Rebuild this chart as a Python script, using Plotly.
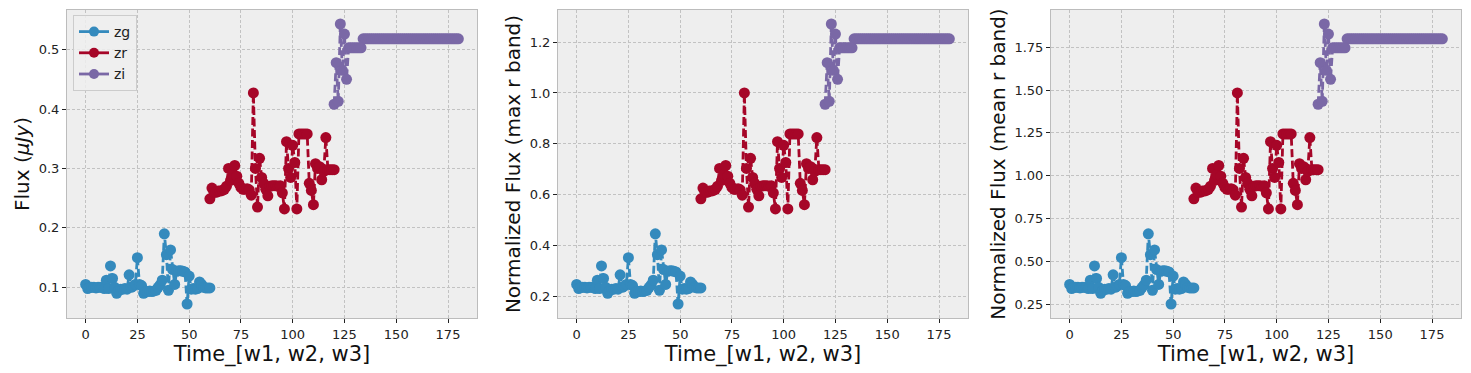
import numpy as np
import plotly.graph_objects as go

# ---- data ----
t_zg = list(range(0, 61))
zg = [0.105, 0.098, 0.100, 0.100, 0.100, 0.099, 0.100, 0.100, 0.100, 0.098,
      0.112, 0.098, 0.136, 0.115, 0.100, 0.090, 0.095, 0.097, 0.097, 0.098,
      0.097, 0.121, 0.100, 0.102, 0.105, 0.150, 0.105, 0.103, 0.090, 0.093,
      0.093, 0.094, 0.093, 0.094, 0.095, 0.100, 0.104, 0.112, 0.190, 0.155,
      0.095, 0.163, 0.130, 0.105, 0.127, 0.128, 0.128, 0.127, 0.126, 0.072,
      0.119, 0.097, 0.098, 0.097, 0.098, 0.109, 0.105, 0.100, 0.099, 0.099,
      0.099]

t_zr = list(range(60, 121))
zr = [0.249, 0.267, 0.260, 0.260, 0.262, 0.262, 0.263, 0.265, 0.270, 0.300,
      0.280, 0.290, 0.305, 0.287, 0.275, 0.268, 0.265, 0.265, 0.266, 0.264,
      0.255, 0.427, 0.300, 0.235, 0.317, 0.285, 0.275, 0.265, 0.254, 0.270,
      0.271, 0.271, 0.271, 0.270, 0.271, 0.259, 0.232, 0.345, 0.300, 0.285,
      0.339, 0.310, 0.232, 0.358, 0.358, 0.358, 0.358, 0.358, 0.275, 0.263,
      0.239, 0.308, 0.300, 0.303, 0.281, 0.295, 0.352, 0.298, 0.298, 0.298,
      0.298]

t_zi = list(range(120, 181))
zi = [0.408, 0.478, 0.413, 0.543, 0.465, 0.526, 0.450, 0.503, 0.503, 0.503,
      0.503, 0.503, 0.503, 0.503] + [0.518] * 47

series_names = ["zg", "zr", "zi"]
series_colors = ["#348ABD", "#A60628", "#7A68A6"]
x_ticks = [0, 25, 50, 75, 100, 125, 150, 175]
y_titles = ["Flux (<i>μJy</i>)", "Normalized Flux (max r band)", "Normalized Flux (mean r band)"]
x_title = "Time_[w1, w2, w3]"

r_max = max(zr)
r_mean = float(np.mean(zr))
scales = [1.0, r_max, r_mean]

times = [t_zg, t_zr, t_zi]
vals = [zg, zr, zi]

# ---- layout geometry (page body has an 8px margin) ----
W, H = 1471, 373
OFF = 8
x_pix = [(67, 477), (558, 968), (1051, 1461)]
y_pix = (10, 318)
y_dom = [1 - (y_pix[1] - OFF) / H, 1 - (y_pix[0] - OFF) / H]

fig = go.Figure()

all_t = t_zg + t_zr + t_zi
tmin, tmax = min(all_t), max(all_t)
xpad = 0.05 * (tmax - tmin)

y_tick_sets = [
    ([0.1, 0.2, 0.3, 0.4, 0.5], ["0.1", "0.2", "0.3", "0.4", "0.5"]),
    ([0.2, 0.4, 0.6, 0.8, 1.0, 1.2], ["0.2", "0.4", "0.6", "0.8", "1.0", "1.2"]),
    ([0.25, 0.5, 0.75, 1.0, 1.25, 1.5, 1.75], ["0.25", "0.50", "0.75", "1.00", "1.25", "1.50", "1.75"]),
]

for p in range(3):
    xa = "x" if p == 0 else f"x{p+1}"
    ya = "y" if p == 0 else f"y{p+1}"
    allv = []
    for s in range(3):
        yv = [v / scales[p] for v in vals[s]]
        allv += yv
        fig.add_trace(go.Scatter(
            x=times[s], y=yv, mode="lines+markers", name=series_names[s],
            line=dict(color=series_colors[s], width=2.8, dash="8px,3.5px"),
            marker=dict(color=series_colors[s], size=11),
            xaxis=xa, yaxis=ya, showlegend=False,
        ))
    vmin, vmax = min(allv), max(allv)
    ypad = 0.05 * (vmax - vmin)
    axis_common = dict(
        showgrid=True, gridcolor="#c2c2c2", griddash="3px,2px", gridwidth=0.8,
        showline=True, linecolor="#bcbcbc", linewidth=1, mirror=True,
        ticks="outside", ticklen=4, tickcolor="#222222", tickwidth=1,
        tickfont=dict(family="DejaVu Sans", size=13, color="#222222"),
        zeroline=False, automargin=False,
    )
    xd = [(x_pix[p][0] - OFF) / W, (x_pix[p][1] - OFF) / W]
    fig.update_layout(**{
        ("xaxis" if p == 0 else f"xaxis{p+1}"): dict(
            domain=xd, anchor=ya, range=[tmin - xpad, tmax + xpad],
            tickvals=x_ticks,
            title=dict(text=x_title, font=dict(family="DejaVu Sans", size=21, color="#111111"), standoff=0),
            **axis_common),
        ("yaxis" if p == 0 else f"yaxis{p+1}"): dict(
            domain=y_dom, anchor=xa, range=[vmin - ypad, vmax + ypad],
            tickvals=y_tick_sets[p][0], ticktext=y_tick_sets[p][1],
            title=dict(text=y_titles[p], font=dict(family="DejaVu Sans", size=20, color="#111111"), standoff=3),
            **axis_common),
    })

# legend-only entries (solid line handles as in the reference)
for s in range(3):
    fig.add_trace(go.Scatter(
        x=[None], y=[None], mode="lines+markers", name=series_names[s],
        line=dict(color=series_colors[s], width=2.8),
        marker=dict(color=series_colors[s], size=10),
        xaxis="x", yaxis="y", showlegend=True,
    ))

fig.update_layout(
    width=W, height=H,
    margin=dict(l=0, r=0, t=0, b=0),
    paper_bgcolor="white", plot_bgcolor="#eeeeee",
    font=dict(family="DejaVu Sans", color="#222222"),
    legend=dict(
        x=(73 - OFF) / W, y=1 - (15 - OFF) / H, xanchor="left", yanchor="top",
        bgcolor="rgba(238,238,238,0.85)", bordercolor="#cccccc", borderwidth=1,
        font=dict(family="DejaVu Sans", size=14, color="#222222"),
        itemwidth=30, tracegroupgap=0,
    ),
)

fig.write_html("out.html")
